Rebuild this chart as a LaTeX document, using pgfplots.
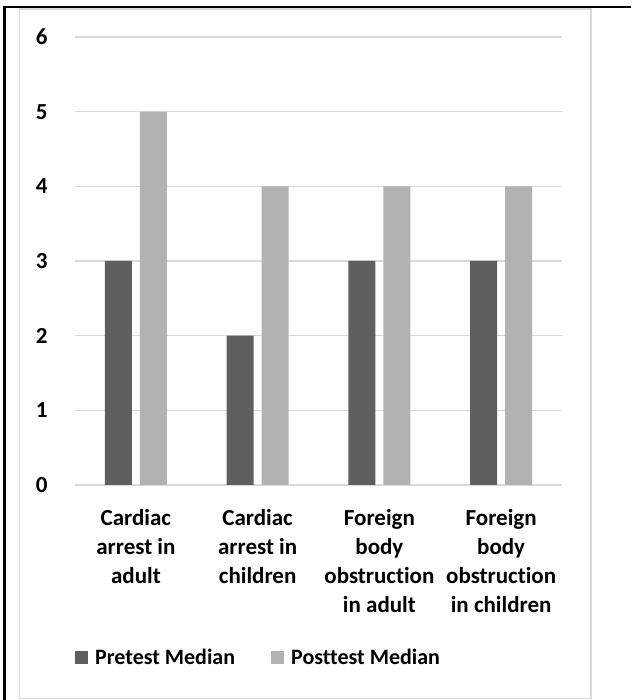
\documentclass[border=0pt]{standalone}
\usepackage{pgfplots}
\pgfplotsset{compat=1.18}
\usepackage{fontspec}
\setmainfont{Carlito}[RawFeature=-liga]
\definecolor{preC}{HTML}{5F5F5F}
\definecolor{postC}{HTML}{B2B2B2}
\definecolor{gridC}{HTML}{D9D9D9}
\begin{document}
\begin{tikzpicture}
\useasboundingbox (0pt,0pt) rectangle (631pt,700pt);
% frame
\draw[line width=2.5pt,black] (4.5pt,0pt) -- (4.5pt,693pt) -- (631pt,693pt);
\draw[line width=1.2pt,gridC] (19.5pt,1.5pt) rectangle (591pt,691pt);
\begin{axis}[
  at={(75pt,215pt)}, anchor=south west,
  scale only axis, width=487pt, height=448pt,
  xmin=-0.5, xmax=3.5, ymin=0, ymax=6,
  ytick={0,1,...,6}, xtick={0,1,2,3},
  xticklabels={{Cardiac\\arrest in\\adult},{Cardiac\\arrest in\\children},{Foreign\\body\\obstruction\\in adult},{Foreign\\body\\obstruction\\in children}},
  /pgf/number format/assume math mode=true,
  tick label style={font=\fontsize{23}{29}\selectfont\bfseries},
  xticklabel style={align=center, anchor=north, yshift=-21pt},
  yticklabel style={xshift=-24pt},
  major tick length=0pt,
  axis line style={draw=none},
  ymajorgrids, grid style={gridC, line width=1.5pt},
  ybar=8pt, bar width=27pt,
  legend columns=2,
  legend style={at={(0.0,-0.386)}, anchor=west, draw=none, fill=none,
    inner sep=0pt, font=\fontsize{22}{26}\selectfont\bfseries,
    /tikz/every odd column/.append style={column sep=5pt},
    /tikz/every even column/.append style={column sep=34pt}},
  legend image code/.code={\fill[#1] (0pt,-6.5pt) rectangle (13pt,6.5pt);},
]
\addplot[fill=preC, draw=none] coordinates {(0,3) (1,2) (2,3) (3,3)};
\addplot[fill=postC, draw=none] coordinates {(0,5) (1,4) (2,4) (3,4)};
\legend{Pretest Median, Posttest Median}
\end{axis}
\end{tikzpicture}
\end{document}
